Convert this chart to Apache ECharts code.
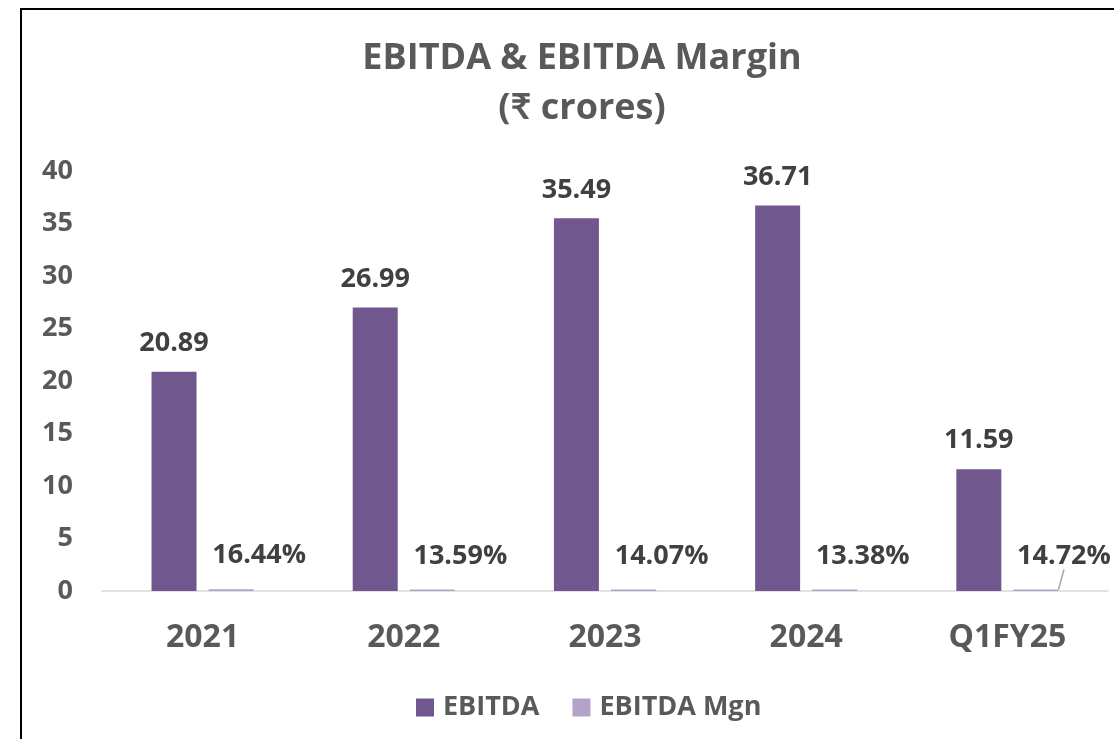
<!DOCTYPE html>
<html>
<head>
<meta charset="utf-8">
<script src="https://cdn.jsdelivr.net/npm/echarts@6/dist/echarts.min.js"></script>
<style>
html, body { margin: 0; padding: 0; background: #fff; }
#chart { width: 1114px; height: 739px; }
</style>
</head>
<body>
<div id="chart"></div>
<script>
var categories = ['2021', '2022', '2023', '2024', 'Q1FY25'];
var ebitda = [20.89, 26.99, 35.49, 36.71, 11.59];
var ebitdaMgn = [16.44, 13.59, 14.07, 13.38, 14.72]; // percent
var yTicks = [0, 5, 10, 15, 20, 25, 30, 35, 40];

var dom = document.getElementById('chart');
var myChart = echarts.init(dom);
var font = '"Open Sans", Lato, sans-serif';

// margin bars are drawn on the same axis as the fraction (16.44% -> 0.1644)
var mgnData = ebitdaMgn.map(function (v, i) {
    var item = { value: v / 100, pct: v };
    if (i === ebitdaMgn.length - 1) {
        item.labelLine = { show: true };
    }
    return item;
});

var option = {
    animation: false,
    textStyle: { fontFamily: font },
    graphic: [{
        type: 'rect',
        shape: { x: 21, y: 9, width: 1200, height: 800 },
        style: { fill: null, stroke: '#000', lineWidth: 2 },
        silent: true
    }],
    title: {
        text: 'EBITDA & EBITDA Margin\n(₹ crores)',
        left: 577,
        top: 29,
        textAlign: 'center',
        textStyle: {
            fontFamily: font,
            fontSize: 36,
            fontWeight: 'bold',
            color: '#595959',
            lineHeight: 50
        }
    },
    legend: {
        top: 689,
        left: 411,
        itemWidth: 18,
        itemHeight: 18,
        itemGap: 33,
        icon: 'rect',
        textStyle: {
            fontFamily: font, fontSize: 27, fontWeight: 'bold', color: '#595959',
            padding: [0, 0, 0, 4]
        },
        data: ['EBITDA', 'EBITDA Mgn']
    },
    grid: { left: 102, right: 6, top: 171, bottom: 148 },
    xAxis: {
        type: 'category',
        data: categories,
        axisLine: { lineStyle: { color: '#D9D9D9', width: 1.5 } },
        axisTick: { show: false },
        axisLabel: {
            fontFamily: font, fontSize: 32, fontWeight: 'bold', color: '#595959', margin: 31
        }
    },
    yAxis: {
        type: 'value',
        min: yTicks[0],
        max: yTicks[yTicks.length - 1],
        interval: 5,
        splitLine: { show: false },
        axisLine: { show: false },
        axisLabel: {
            fontFamily: font, fontSize: 27, fontWeight: 'bold', color: '#595959', margin: 29
        }
    },
    series: [{
        name: 'EBITDA',
        type: 'bar',
        barWidth: 45,
        barGap: '27%',
        itemStyle: { color: '#70588E' },
        label: {
            show: true,
            position: 'top',
            distance: 15,
            fontFamily: font, fontSize: 27, fontWeight: 'bold', color: '#404040',
            formatter: function (p) { return p.value.toFixed(2); }
        },
        data: ebitda
    }, {
        name: 'EBITDA Mgn',
        type: 'bar',
        barWidth: 45,
        itemStyle: { color: '#B4A2C8' },
        label: {
            show: true,
            position: 'top',
            distance: 20,
            fontFamily: font, fontSize: 27, fontWeight: 'bold', color: '#404040',
            formatter: function (p) { return p.data.pct.toFixed(2) + '%'; }
        },
        labelLine: { show: false, lineStyle: { color: '#A6A6A6', width: 1.5 } },
        labelLayout: function (params) {
            return { dx: 28 };
        },
        data: mgnData
    }]
};

myChart.setOption(option, true);
</script>
</body>
</html>
